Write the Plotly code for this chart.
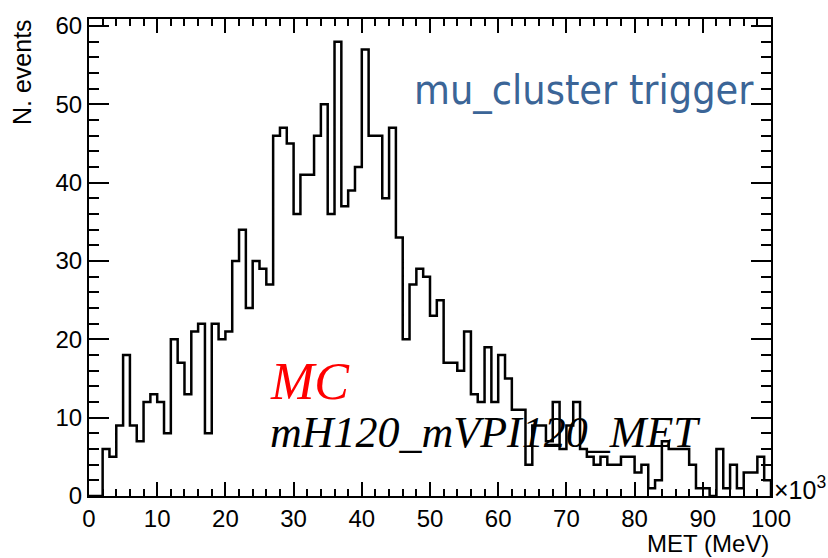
import plotly.graph_objects as go

# MET histogram: 100 bins of 1 (x10^3 MeV) from 0 to 100
bin_edges = list(range(0, 101))
counts = [
    0, 0, 6, 5, 9, 18, 9, 7, 12, 13,
    12, 8, 20, 17, 13, 21, 22, 8, 22, 20,
    21, 30, 34, 24, 30, 29, 27, 46, 47, 45,
    36, 41, 41, 46, 50, 36, 58, 37, 39, 42,
    57, 46, 46, 38, 47, 33, 20, 27, 29, 28,
    23, 25, 17, 17, 16, 21, 13, 12, 19, 12,
    18, 15, 11, 11, 4, 9, 9, 7, 12, 6,
    9, 12, 6, 5, 4, 5, 4, 4, 5, 5,
    3, 4, 1, 2, 7, 6, 6, 6, 4, 1,
    1, 0, 6, 1, 4, 1, 3, 3, 5, 2,
]
x_ticks = [0, 10, 20, 30, 40, 50, 60, 70, 80, 90, 100]
y_ticks = [0, 10, 20, 30, 40, 50, 60]

# step outline: left edge of every bin, closing at the last edge
step_x = [bin_edges[0]] + bin_edges + [bin_edges[-1]]
step_y = [0] + counts + [counts[-1]] + [0]

fig = go.Figure()
fig.add_trace(go.Scatter(
    x=step_x, y=step_y, mode="lines",
    line=dict(color="black", width=2.5, shape="hv"),
    hoverinfo="skip", showlegend=False,
))

sans = "Liberation Sans, Arial, sans-serif"
axis_font = dict(family=sans, size=24, color="black")

fig.update_layout(
    width=828, height=558,
    margin=dict(l=89, r=57, t=17, b=62),
    paper_bgcolor="white", plot_bgcolor="white",
    xaxis=dict(
        range=[0, 100], tickvals=x_ticks, ticks="inside", ticklen=14, tickwidth=1.5,
        tickcolor="black", showline=True, linecolor="black", linewidth=2,
        mirror="allticks", showgrid=False, zeroline=False, tickfont=axis_font,
        minor=dict(dtick=2, ticks="inside", ticklen=7, tickwidth=1.5, tickcolor="black",
                   showgrid=False),
    ),
    yaxis=dict(
        range=[0, 60.9], tickvals=y_ticks, ticks="inside", ticklen=20, tickwidth=1.5,
        tickcolor="black", showline=True, linecolor="black", linewidth=2,
        mirror="allticks", showgrid=False, zeroline=False, tickfont=axis_font,
        minor=dict(dtick=2, ticks="inside", ticklen=10, tickwidth=1.5, tickcolor="black",
                   showgrid=False),
    ),
)

annotations = [
    dict(text="N. events", textangle=-90, xref="paper", yref="paper",
         x=0, y=1, xshift=-67, yshift=2, xanchor="center", yanchor="top",
         showarrow=False, font=dict(family=sans, size=25, color="black")),
    dict(text="MET (MeV)", xref="paper", yref="paper", x=1, y=0, yshift=-47,
         xanchor="right", yanchor="middle", showarrow=False,
         font=dict(family=sans, size=24, color="black")),
    dict(text="×10<sup>3</sup>", xref="paper", yref="paper", x=1, y=0, xshift=1, yshift=8,
         xanchor="left", yanchor="middle", showarrow=False,
         font=dict(family=sans, size=25, color="black")),
    dict(text="mu_cluster trigger", xref="paper", yref="paper", x=0.473, y=0.852,
         xanchor="left", yanchor="middle", showarrow=False,
         font=dict(family="DejaVu Sans Condensed, DejaVu Sans, sans-serif", size=41,
                   color="#3b6597")),
    dict(text="<i>MC</i>", xref="paper", yref="paper", x=0.262, y=0.24,
         xanchor="left", yanchor="middle", showarrow=False,
         font=dict(family="Liberation Serif, serif", size=52, color="#ff0000")),
    dict(text="<i>mH120_mVPI120_MET</i>", xref="paper", yref="paper", x=0.262, y=0.134,
         xanchor="left", yanchor="middle", showarrow=False,
         font=dict(family="Liberation Serif, serif", size=44, color="black")),
]
fig.update_layout(annotations=annotations)

fig.write_html("out.html")
